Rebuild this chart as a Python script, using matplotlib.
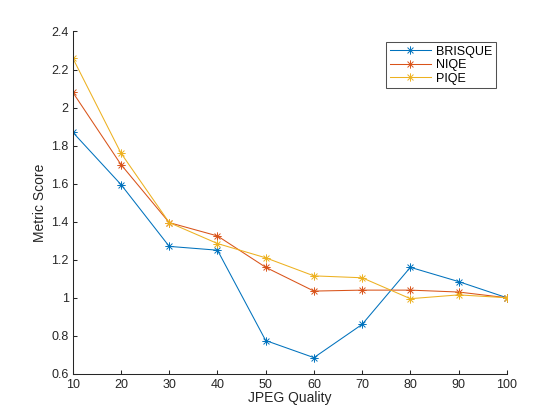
import matplotlib
matplotlib.use("Agg")
import matplotlib.pyplot as plt
from matplotlib.path import Path
import numpy as np

plt.rcParams['font.family'] = ['Liberation Sans', 'DejaVu Sans']

quality = [10, 20, 30, 40, 50, 60, 70, 80, 90, 100]
brisque = [1.87, 1.595, 1.27, 1.25, 0.775, 0.685, 0.86, 1.16, 1.085, 1.0]
niqe = [2.08, 1.70, 1.395, 1.325, 1.16, 1.035, 1.04, 1.04, 1.03, 1.0]
piqe = [2.26, 1.76, 1.395, 1.285, 1.21, 1.115, 1.105, 0.995, 1.015, 1.0]
series_names = ['BRISQUE', 'NIQE', 'PIQE']
colors = ['#0072BD', '#D95319', '#EDB120']
xticks = [10, 20, 30, 40, 50, 60, 70, 80, 90, 100]
yticks = [0.6, 0.8, 1.0, 1.2, 1.4, 1.6, 1.8, 2.0, 2.2, 2.4]
ytick_labels = ['0.6', '0.8', '1', '1.2', '1.4', '1.6', '1.8', '2', '2.2', '2.4']

# asterisk marker (+ and x overlaid)
d = 0.7071
verts = [(-1, 0), (1, 0), (0, -1), (0, 1), (-d, -d), (d, d), (-d, d), (d, -d)]
codes = [Path.MOVETO, Path.LINETO] * 4
ast = Path(verts, codes)

fig = plt.figure(figsize=(5.6, 4.2), dpi=100)
ax = fig.add_axes([0.13, 0.11, 0.775, 0.815])
for vals, name, c in zip([brisque, niqe, piqe], series_names, colors):
    ax.plot(quality, vals, color=c, lw=0.75, marker=ast, markersize=6,
            markerfacecolor='none', markeredgecolor=c, markeredgewidth=0.7, label=name)

ax.set_xlim(10, 100)
ax.set_ylim(0.6, 2.4)
ax.set_xticks(xticks)
ax.set_yticks(yticks)
ax.set_yticklabels(ytick_labels)
ax.spines['top'].set_visible(False)
ax.spines['right'].set_visible(False)
for s in ['left', 'bottom']:
    ax.spines[s].set_color('#262626')
    ax.spines[s].set_linewidth(0.75)
ax.tick_params(direction='in', length=3, width=0.75, colors='#262626', labelsize=9)
ax.tick_params(axis='x', pad=3.5)
ax.tick_params(axis='y', pad=3)
ax.set_xlabel('JPEG Quality', fontsize=10, color='#262626', labelpad=0)
ax.set_ylabel('Metric Score', fontsize=10, color='#262626', labelpad=3)

leg = ax.legend(loc='upper right', bbox_to_anchor=(0.975, 0.97), fontsize=9, frameon=True,
                fancybox=False, edgecolor='#262626', borderpad=0.3, labelspacing=0.12,
                handlelength=3.3, handletextpad=0.4, borderaxespad=0)
leg.get_frame().set_linewidth(0.75)

fig.savefig('out.png', dpi=100)
